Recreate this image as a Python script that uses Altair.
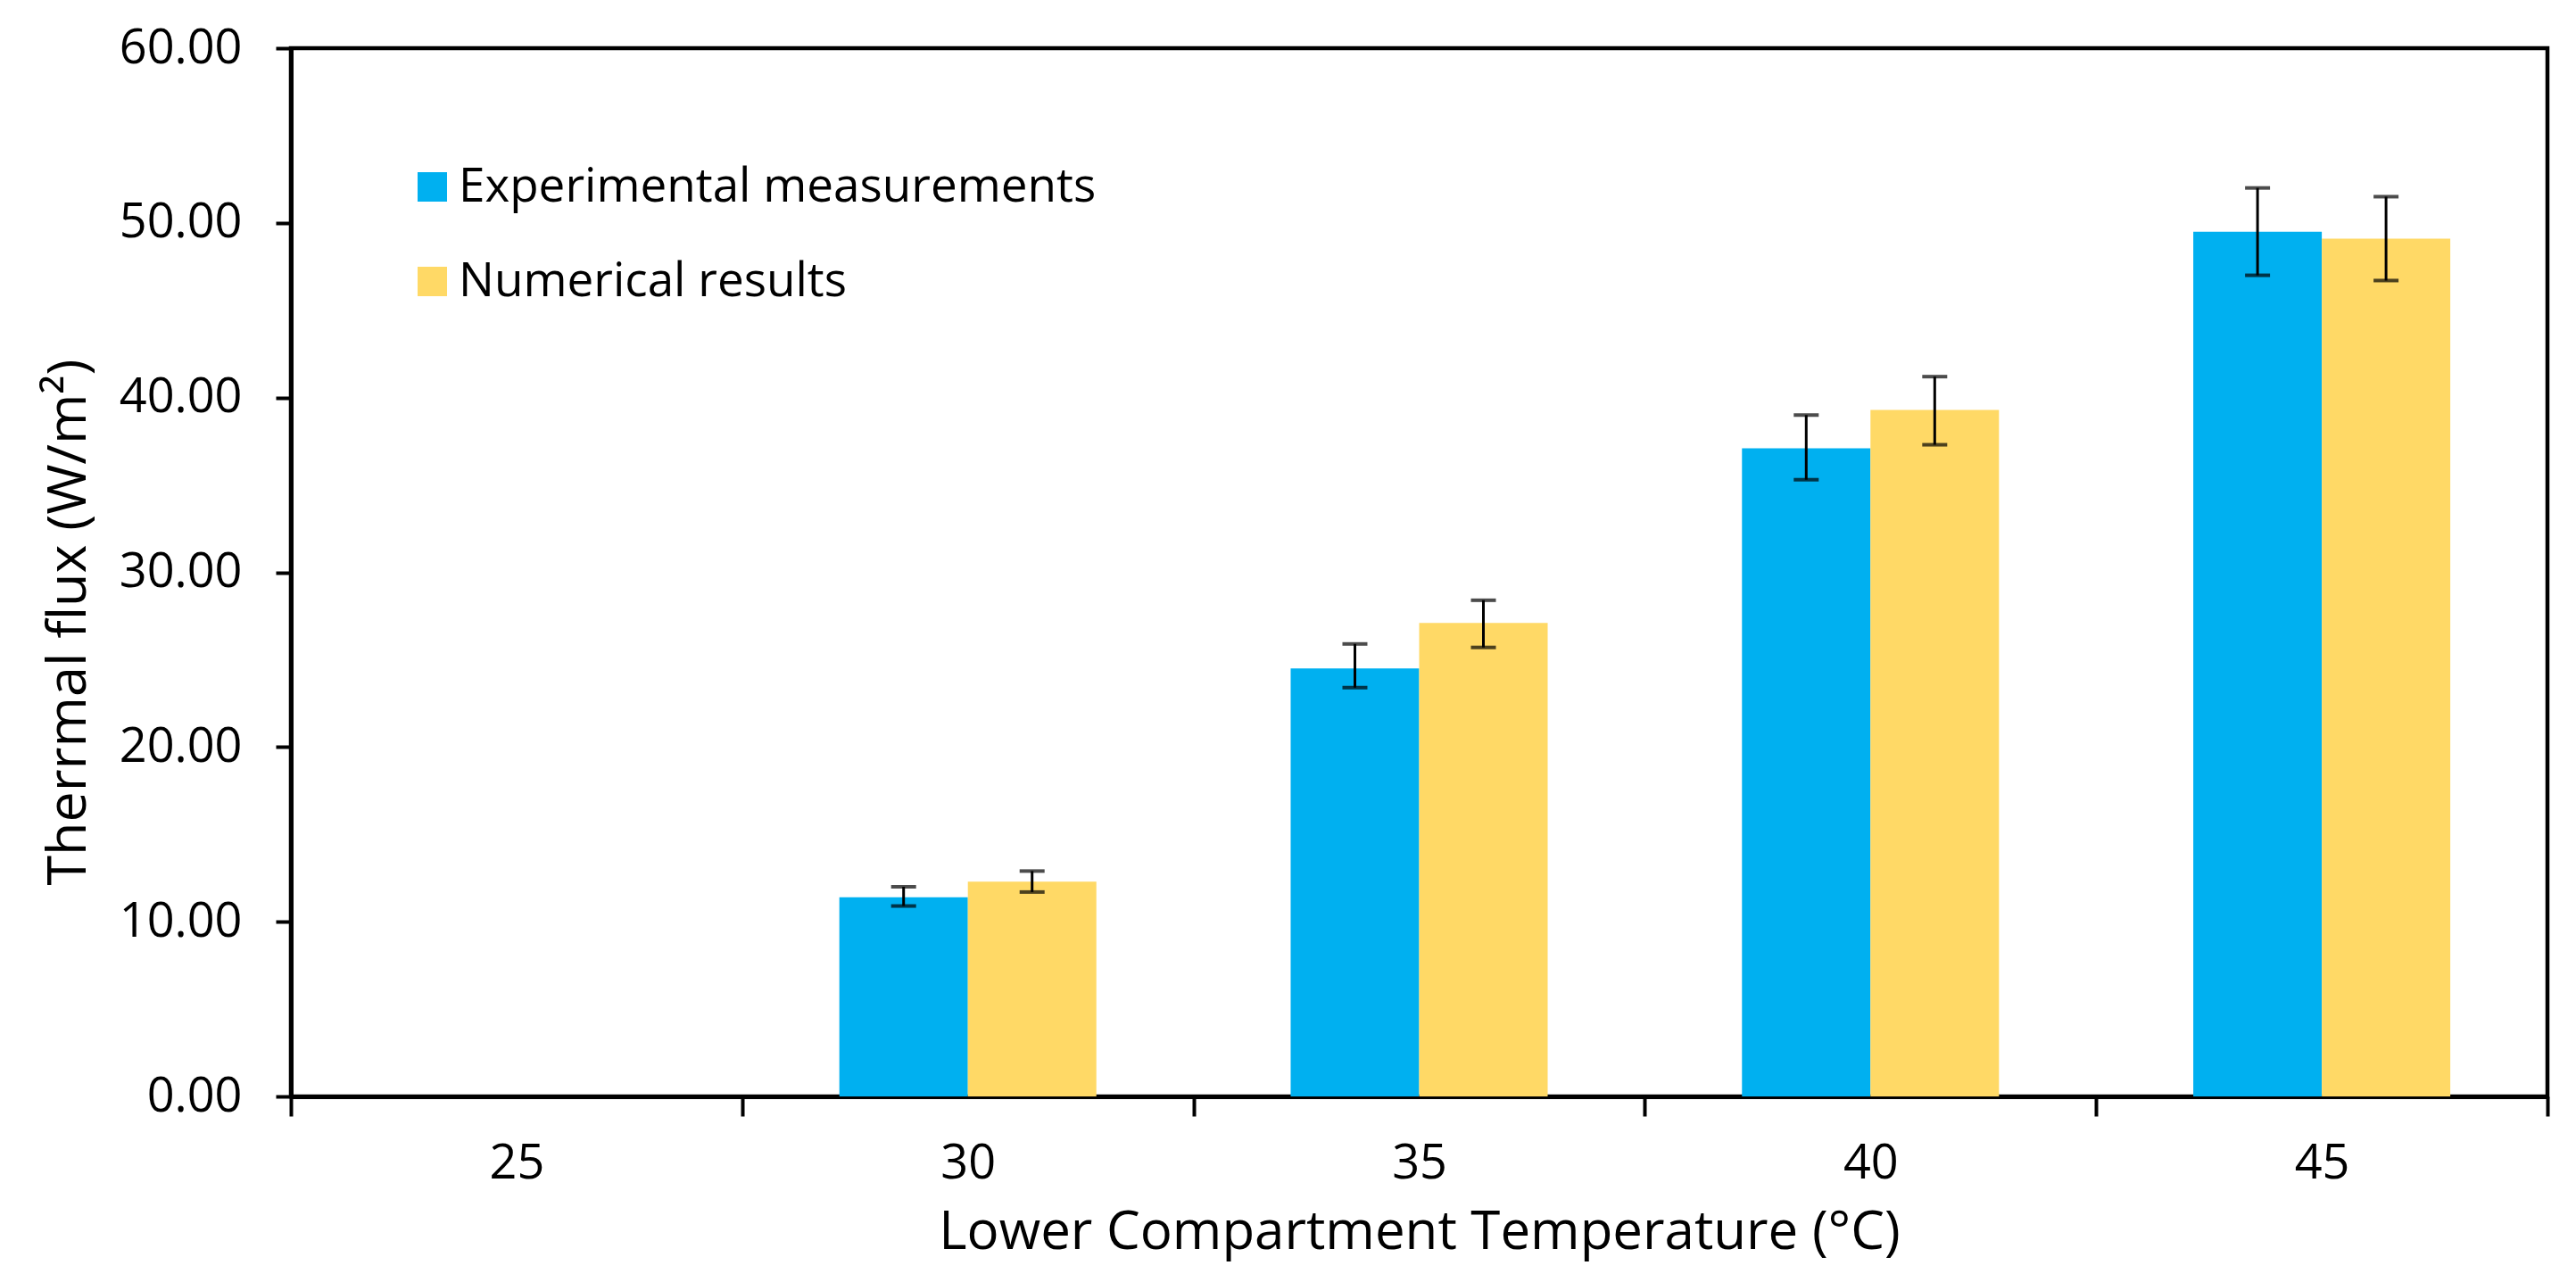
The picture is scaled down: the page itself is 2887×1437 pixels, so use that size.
import altair as alt
import pandas as pd

temps = ["25", "30", "35", "40", "45"]
series = ["Experimental measurements", "Numerical results"]
exp_vals = [None, 11.4, 24.5, 37.1, 49.5]
exp_lo = [None, 10.9, 23.4, 35.3, 47.0]
exp_hi = [None, 12.0, 25.9, 39.0, 52.0]
num_vals = [None, 12.3, 27.1, 39.3, 49.1]
num_lo = [None, 11.7, 25.7, 37.3, 46.7]
num_hi = [None, 12.9, 28.4, 41.2, 51.5]
colors = ["#00B0F0", "#FFD966"]

rows = []
for i, t in enumerate(temps):
    if exp_vals[i] is not None:
        rows.append({"T": t, "S": series[0], "v": exp_vals[i], "lo": exp_lo[i], "hi": exp_hi[i]})
    if num_vals[i] is not None:
        rows.append({"T": t, "S": series[1], "v": num_vals[i], "lo": num_lo[i], "hi": num_hi[i]})
df = pd.DataFrame(rows)

FONT = "Open Sans"
TXT = "#000000"

x_enc = alt.X("T:N", sort=temps, scale=alt.Scale(domain=temps, paddingInner=0, paddingOuter=0),
              axis=alt.Axis(title="Lower Compartment Temperature (°C)", labelAngle=0,
                            tickBand="extent", tickSize=22, tickWidth=4, tickColor="black",
                            domainColor="black", domainWidth=5,
                            labelFontSize=54, labelFont=FONT, labelColor=TXT, labelPadding=26,
                            titleFontSize=60, titleFont=FONT, titleFontWeight="normal",
                            titleColor=TXT, titlePadding=21))
xo = alt.XOffset("S:N", sort=series, scale=alt.Scale(domain=series, paddingInner=0, paddingOuter=0.756))

base = alt.Chart(df)

bars = base.mark_bar().encode(
    x=x_enc,
    xOffset=xo,
    y=alt.Y("v:Q", scale=alt.Scale(domain=[0, 60], nice=False),
            axis=alt.Axis(title="Therrmal flux (W/m²)", values=[0, 10, 20, 30, 40, 50, 60],
                          format=".2f", grid=False, tickSize=17, tickWidth=4, tickColor="black",
                          domainColor="black", domainWidth=5,
                          labelFontSize=54, labelFont=FONT, labelColor=TXT, labelPadding=38,
                          titleFontSize=61, titleFont=FONT, titleFontWeight="normal",
                          titleColor=TXT, titlePadding=25, titleY=643)),
    color=alt.Color("S:N", sort=series, scale=alt.Scale(domain=series, range=colors),
                    legend=alt.Legend(title=None, orient="none", legendX=132, legendY=129,
                                      symbolType="square", symbolSize=1090, symbolStrokeWidth=0,
                                      labelFontSize=53, labelFont=FONT, labelColor=TXT,
                                      labelLimit=0, labelOffset=3, rowPadding=52, padding=0)),
)

rule = base.mark_rule(color="black", strokeWidth=3).encode(
    x=alt.X("T:N", sort=temps), xOffset=alt.XOffset("S:N", sort=series), y="lo:Q", y2="hi:Q")
cap_lo = base.mark_tick(color="black", thickness=4, size=28, orient="horizontal").encode(
    x=alt.X("T:N", sort=temps), xOffset=alt.XOffset("S:N", sort=series), y="lo:Q")
cap_hi = base.mark_tick(color="black", thickness=4, size=28, orient="horizontal").encode(
    x=alt.X("T:N", sort=temps), xOffset=alt.XOffset("S:N", sort=series), y="hi:Q")

chart = alt.layer(bars, rule, cap_lo, cap_hi).properties(
    width=2529, height=1175,
    padding={"left": 38, "top": 19, "right": 20, "bottom": 5},
    background="white",
).configure_view(stroke="black", strokeWidth=4.5)

chart.save("out.html", embed_options={"renderer": "svg", "actions": False})
